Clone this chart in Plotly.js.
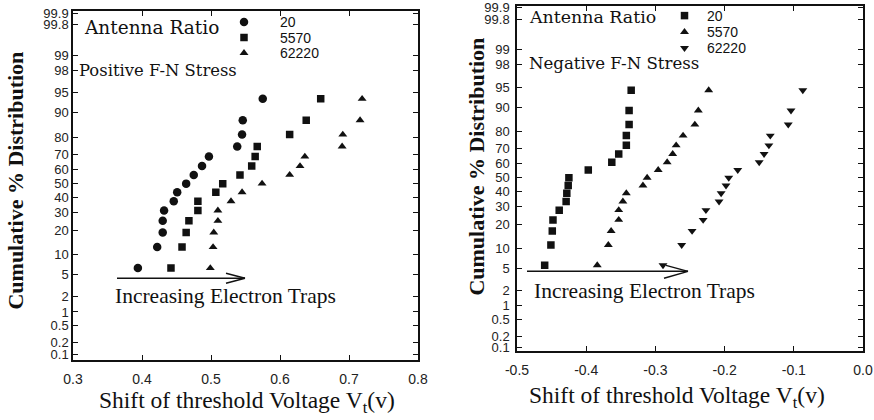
<!DOCTYPE html>
<html>
<head>
<meta charset="utf-8">
<script src="https://cdn.plot.ly/plotly-3.0.1.min.js"></script>
<style>html,body{margin:0;padding:0;background:#fff;}#chart{width:874px;height:420px;}</style>
</head>
<body>
<div id="chart"></div>
<script>
// ---- data ----
const seriesNames = ["20", "5570", "62220"];
const probTickLabels = ["0.1","0.2","0.5","1","2","5","10","20","30","40","50","60","70","80","90","95","98","99","99.8","99.9"];
const probTickValues = [0.1,0.2,0.5,1,2,5,10,20,30,40,50,60,70,80,90,95,98,99,99.8,99.9];

// Positive F-N stress (left panel): cumulative % and shift of Vt (V)
const posPct = [6.3, 12.5, 18.8, 25.0, 31.3, 37.5, 43.8, 50.0, 56.3, 62.5, 68.8, 75.0, 81.3, 87.5, 93.8];
const posAR20    = [0.394, 0.422, 0.430, 0.430, 0.432, 0.446, 0.451, 0.464, 0.475, 0.487, 0.497, 0.538, 0.545, 0.546, 0.575];
const posAR5570  = [0.442, 0.458, 0.464, 0.468, 0.481, 0.481, 0.507, 0.517, 0.542, 0.559, 0.564, 0.567, 0.614, 0.638, 0.659];
const posAR62220 = [0.499, 0.503, 0.504, 0.510, 0.510, 0.529, 0.545, 0.574, 0.614, 0.629, 0.636, 0.690, 0.691, 0.716, 0.719];

// Negative F-N stress (right panel)
const negPct = [5.6, 11.1, 16.7, 22.2, 27.8, 33.3, 38.9, 44.4, 50.0, 55.6, 61.1, 66.7, 72.2, 77.8, 83.3, 88.9, 94.4];
const negAR20    = [-0.460, -0.451, -0.449, -0.448, -0.439, -0.429, -0.428, -0.426, -0.425, -0.397, -0.363, -0.353, -0.342, -0.342, -0.338, -0.338, -0.335];
const negAR5570  = [-0.384, -0.368, -0.364, -0.353, -0.353, -0.347, -0.342, -0.318, -0.312, -0.296, -0.283, -0.275, -0.270, -0.260, -0.243, -0.238, -0.223];
const negAR62220 = [-0.289, -0.262, -0.247, -0.231, -0.227, -0.208, -0.205, -0.198, -0.194, -0.181, -0.150, -0.143, -0.136, -0.134, -0.108, -0.104, -0.087];

// ---- normal-probability scale (inverse normal CDF, Acklam) ----
function probit(p) {
  const a = [-3.969683028665376e+01, 2.209460984245205e+02, -2.759285104469687e+02, 1.383577518672690e+02, -3.066479806614716e+01, 2.506628277459239e+00];
  const b = [-5.447609879822406e+01, 1.615858368580409e+02, -1.556989798598866e+02, 6.680131188771972e+01, -1.328068155288572e+01];
  const c = [-7.784894002430293e-03, -3.223964580411365e-01, -2.400758277161838e+00, -2.549732539343734e+00, 4.374664141464968e+00, 2.938163982698783e+00];
  const d = [7.784695709041462e-03, 3.224671290700398e-01, 2.445134137142996e+00, 3.754408661907416e+00];
  const pl = 0.02425, ph = 1 - pl;
  let q, r;
  if (p < pl) { q = Math.sqrt(-2 * Math.log(p));
    return (((((c[0]*q+c[1])*q+c[2])*q+c[3])*q+c[4])*q+c[5]) / ((((d[0]*q+d[1])*q+d[2])*q+d[3])*q+1); }
  if (p <= ph) { q = p - 0.5; r = q*q;
    return (((((a[0]*r+a[1])*r+a[2])*r+a[3])*r+a[4])*r+a[5])*q / (((((b[0]*r+b[1])*r+b[2])*r+b[3])*r+b[4])*r+1); }
  q = Math.sqrt(-2 * Math.log(1 - p));
  return -(((((c[0]*q+c[1])*q+c[2])*q+c[3])*q+c[4])*q+c[5]) / ((((d[0]*q+d[1])*q+d[2])*q+d[3])*q+1);
}
const z = pcts => pcts.map(v => probit(v / 100));

const INK = "#111111";
function mk(x, pct, name, symbol, xa, ya, legend, size) {
  return { type: "scatter", mode: "markers", x: x, y: z(pct), name: name,
    xaxis: xa, yaxis: ya, legend: legend,
    marker: { symbol: symbol, size: size, color: INK, line: { width: 0 } },
    hoverinfo: "skip" };
}
const traces = [
  mk(posAR20, posPct, seriesNames[0], "circle", "x", "y", "legend", 8.5),
  mk(posAR5570, posPct, seriesNames[1], "square", "x", "y", "legend2", 7.5),
  mk(posAR62220, posPct, seriesNames[2], "triangle-up", "x", "y", "legend3", 7.8),
  mk(negAR20, negPct, seriesNames[0], "square", "x2", "y2", "legend4", 7.5),
  mk(negAR5570, negPct, seriesNames[1], "triangle-up", "x2", "y2", "legend5", 7.8),
  mk(negAR62220, negPct, seriesNames[2], "triangle-down", "x2", "y2", "legend6", 7.8)
];

const W = 874, H = 420;
const px = v => v / W, py = v => 1 - v / H;

function yAxis(domain, range, anchor, standoff) {
  return { domain: domain, range: range, anchor: anchor, tickmode: "array", tickvals: z(probTickValues), ticktext: probTickLabels,
    ticks: "inside", ticklen: 5, tickwidth: 1, tickcolor: INK, showline: true, linewidth: 1.5, linecolor: INK,
    mirror: "ticks", showgrid: false, zeroline: false, ticklabelstandoff: standoff,
    tickfont: { family: "Liberation Sans, Arial, sans-serif", size: 13, color: "#222" } };
}
function xAxis(domain, range, anchor, vals) {
  return { domain: domain, range: range, anchor: anchor, tickmode: "array", tickvals: vals,
    ticktext: vals.map(v => v.toFixed(1)),
    ticks: "inside", ticklen: 5, tickwidth: 1, tickcolor: INK, showline: true, linewidth: 1.5, linecolor: INK,
    mirror: "ticks", showgrid: false, zeroline: false, ticklabelstandoff: 5,
    tickfont: { family: "Liberation Sans, Arial, sans-serif", size: 14, color: "#222" } };
}

const serif = "Liberation Serif, Times New Roman, serif";
const wideSerif = "DejaVu Serif, serif";
function txt(text, x, y, size, family, extra) {
  return Object.assign({ text: text, xref: "paper", yref: "paper", x: px(x), y: py(y),
    xanchor: "left", yanchor: "middle", showarrow: false,
    font: { family: family, size: size, color: INK } }, extra || {});
}
const annotations = [
  txt("Antenna Ratio", 82, 27, 18.5, wideSerif),
  txt("Positive F-N Stress", 77, 70, 16.4, wideSerif),
  txt("Increasing Electron Traps", 113, 296, 21.5, serif),
  txt("Shift of threshold Voltage V<sub>t</sub>(v)", 247, 402, 23.5, serif, { xanchor: "center" }),
  txt("<b>Cumulative % Distribution</b>", 16, 180, 22, serif, { xanchor: "center", textangle: -90 }),
  txt("Antenna Ratio", 527, 16, 17.4, wideSerif),
  txt("Negative F-N Stress", 527, 63, 16.6, wideSerif),
  txt("Increasing Electron Traps", 532, 291, 21.5, serif),
  txt("Shift of threshold Voltage V<sub>t</sub>(v)", 677, 397, 23.5, serif, { xanchor: "center" }),
  txt("<b>Cumulative % Distribution</b>", 477, 166, 22, serif, { xanchor: "center", textangle: -90 })
];

function line(x0, y0, x1, y1) {
  return { type: "line", xref: "paper", yref: "paper", x0: px(x0), y0: py(y0), x1: px(x1), y1: py(y1),
    line: { color: INK, width: 1.5 } };
}
const shapes = [
  line(117, 278, 245, 278), line(226, 273, 245, 278), line(226, 283, 245, 278),
  line(527, 271, 688, 271), line(666, 265, 688, 271), line(664, 278, 688, 271)
];

// one-entry legends so each row sits where the reference puts it
const legFont = { family: "Liberation Sans, Arial, sans-serif", size: 14, color: INK };
function leg(left, centerY, iw) {
  return { x: px(left), y: py(centerY - 15.6), xanchor: "left", yanchor: "top", bgcolor: "rgba(0,0,0,0)",
    borderwidth: 0, itemwidth: iw, font: legFont, itemclick: false, itemdoubleclick: false };
}

const layout = {
  width: W, height: H, margin: { l: 0, r: 0, t: 0, b: 0 },
  paper_bgcolor: "#ffffff", plot_bgcolor: "#ffffff",
  font: { family: "Liberation Sans, Arial, sans-serif", color: INK },
  showlegend: true,
  xaxis: xAxis([px(73), px(418)], [0.3, 0.8], "y", [0.3, 0.4, 0.5, 0.6, 0.7, 0.8]),
  yaxis: yAxis([py(360), py(10)], [-3.20, 3.13], "x", 0),
  xaxis2: xAxis([px(517), px(863)], [-0.5, 0.0], "y2", [-0.5, -0.4, -0.3, -0.2, -0.1, 0.0]),
  yaxis2: yAxis([py(351), py(5)], [-3.15, 3.12], "x2", 3),
  legend: leg(208, 22, 62), legend2: leg(208, 37.5, 62), legend3: leg(208, 53, 62),
  legend4: leg(662, 15, 35), legend5: leg(662, 32, 35), legend6: leg(662, 48, 35),
  annotations: annotations,
  shapes: shapes
};

// Rewrite axis-line / tick paths (H/V commands) as plain absolute M/L segments,
// which the page rasterizer draws reliably.
function toAbsLines(d) {
  if (!d || /[AaCcQqSsTt]/.test(d)) return d;
  const re = /([MmLlHhVvZz])([^MmLlHhVvZz]*)/g;
  let m, out = [], cx = 0, cy = 0, sx = 0, sy = 0;
  while ((m = re.exec(d))) {
    const cmd = m[1];
    const n = (m[2].match(/-?\d*\.?\d+(?:e[-+]?\d+)?/gi) || []).map(Number);
    if (cmd === "M" || cmd === "m") {
      for (let i = 0; i + 1 < n.length; i += 2) {
        let x = n[i], y = n[i + 1];
        if (cmd === "m") { x += cx; y += cy; }
        cx = x; cy = y;
        if (i === 0) { sx = x; sy = y; out.push("M" + x + "," + y); } else out.push("L" + x + "," + y);
      }
    } else if (cmd === "L" || cmd === "l") {
      for (let i = 0; i + 1 < n.length; i += 2) {
        let x = n[i], y = n[i + 1];
        if (cmd === "l") { x += cx; y += cy; }
        cx = x; cy = y; out.push("L" + x + "," + y);
      }
    } else if (cmd === "H" || cmd === "h") {
      n.forEach(v => { cx = cmd === "H" ? v : cx + v; out.push("L" + cx + "," + cy); });
    } else if (cmd === "V" || cmd === "v") {
      n.forEach(v => { cy = cmd === "V" ? v : cy + v; out.push("L" + cx + "," + cy); });
    } else { out.push("Z"); cx = sx; cy = sy; }
  }
  return out.join("");
}
function fixAxisPaths() {
  document.querySelectorAll(".cartesianlayer path").forEach(function (p) {
    if (p.closest(".plot")) return;
    const d = p.getAttribute("d");
    const nd = toAbsLines(d);
    if (nd && nd !== d) p.setAttribute("d", nd);
  });
}

Plotly.newPlot("chart", traces, layout, { displayModeBar: false }).then(function (gd) {
  fixAxisPaths();
  gd.on("plotly_afterplot", fixAxisPaths);
});
</script>
</body>
</html>
